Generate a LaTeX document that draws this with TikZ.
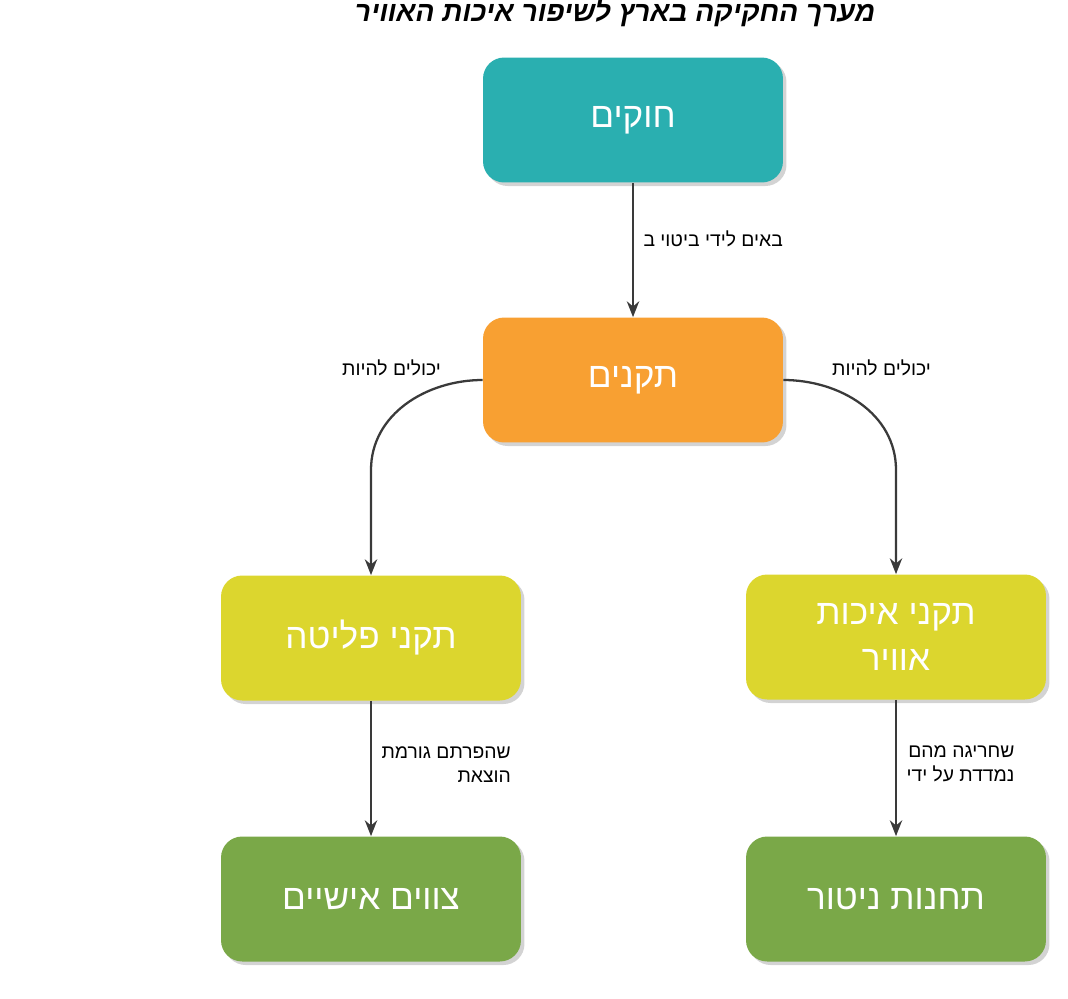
\documentclass[tikz,border=0pt]{standalone}
\usepackage{fontspec}
\newfontfamily\heb[Script=Hebrew]{Liberation Sans}
\TeXXeTstate=1
\usetikzlibrary{arrows.meta,shadows}
\definecolor{cteal}{HTML}{2AAFB0}
\definecolor{corange}{HTML}{F8A032}
\definecolor{cyellow}{HTML}{DCD62E}
\definecolor{cgreen}{HTML}{7AA848}
\definecolor{cline}{HTML}{3A3A3A}
\tikzset{
 box/.style={rounded corners=12pt, minimum width=6cm, minimum height=2.5cm, text=white, font=\heb\fontsize{20}{26}\selectfont, align=center, drop shadow={shadow xshift=2pt, shadow yshift=-2pt, opacity=0.35}},
 conn/.style={draw=cline, line width=1.3pt, -{Stealth[length=9pt,width=7pt]}},
 lbl/.style={font=\heb\fontsize{11}{14}\selectfont, text=black, align=right},
}
\begin{document}
\begin{tikzpicture}[x=0.02cm,y=-0.02cm]
\useasboundingbox (0,0) rectangle (1068,998);
\node[font=\heb\bfseries\itshape\fontsize{16}{20}\selectfont] (title) at (615,13) {\beginR מערך החקיקה בארץ לשיפור איכות האוויר\endR};
\node[box, fill=cteal] (laws) at (633,120) {\beginR חוקים\endR};
\node[box, fill=corange] (regs) at (633,380) {\beginR תקנים\endR};
\node[box, fill=cyellow] (emit) at (371,638) {\beginR תקני פליטה\endR};
\node[box, fill=cyellow] (air) at (896,637) {\beginR תקני איכות\endR\\\beginR אוויר\endR};
\node[box, fill=cgreen] (orders) at (371,899) {\beginR צווים אישיים\endR};
\node[box, fill=cgreen] (stations) at (896,899) {\beginR תחנות ניטור\endR};
\coordinate (lb) at (371,470);
\coordinate (rb) at (896,470);
\draw[conn] (laws.south) -- (regs.north) node[lbl, pos=0.42, right=2pt] {\beginR באים לידי ביטוי ב\endR};
\draw[conn] (regs.west) to[out=180,in=90] (lb) -- (emit.north);
\draw[conn] (regs.east) to[out=0,in=90] (rb) -- (air.north);
\node[lbl, anchor=east] at (447,368) {\beginR יכולים להיות\endR};
\node[lbl, anchor=west] at (826,368) {\beginR יכולים להיות\endR};
\draw[conn] (emit.south) -- (orders.north) node[lbl, pos=0.47, right=2pt] {\beginR שהפרתם גורמת\endR\\\beginR הוצאת\endR};
\draw[conn] (air.south) -- (stations.north) node[lbl, pos=0.47, right=2pt] {\beginR שחריגה מהם\endR\\\beginR נמדדת על ידי\endR};
\end{tikzpicture}
\end{document}
